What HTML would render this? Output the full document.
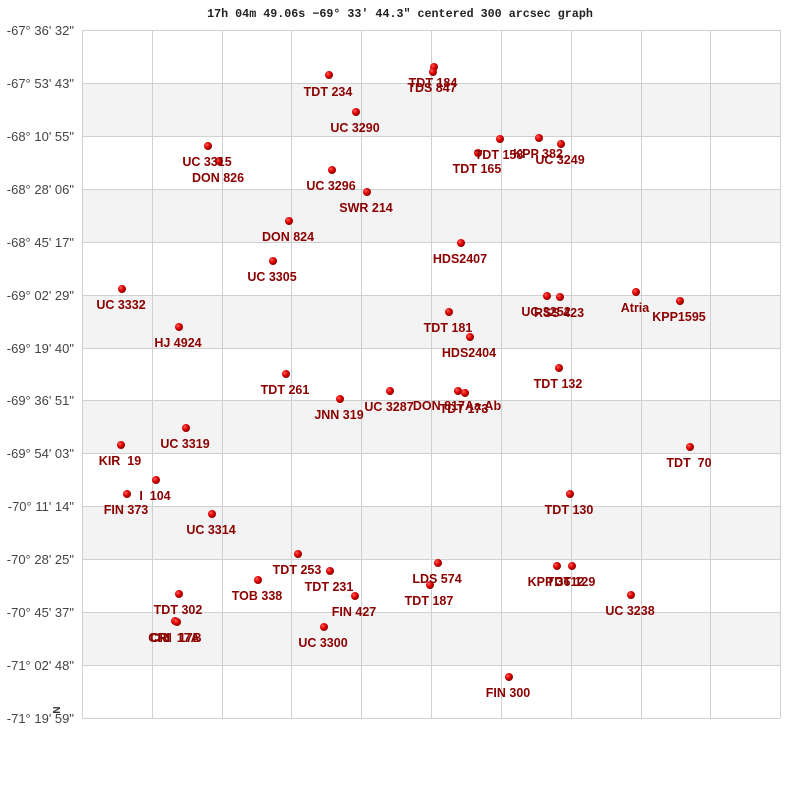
<!DOCTYPE html>
<html><head><meta charset="utf-8"><style>
body{margin:0;background:#fff;width:800px;height:800px;overflow:hidden}
svg text{font-family:"Liberation Sans",sans-serif}
.l{font-size:12.5px;font-weight:bold;fill:#8b0000;text-anchor:middle}
.y{font-size:13px;fill:#444;text-anchor:end}
</style></head><body>
<svg width="800" height="800" xmlns="http://www.w3.org/2000/svg">
<defs><radialGradient id="g" cx="35%" cy="35%" r="70%"><stop offset="0" stop-color="#ff6060"/><stop offset="0.5" stop-color="#e00000"/><stop offset="1" stop-color="#800000"/></radialGradient></defs>
<text x="400" y="17" text-anchor="middle" style="font-family:'Liberation Mono',monospace;font-size:11.7px;font-weight:bold;fill:#222">17h 04m 49.06s −69° 33′ 44.3" centered 300 arcsec graph</text>
<g fill="#f3f3f3">
<rect x="82" y="83" width="698" height="53"/><rect x="82" y="189" width="698" height="53"/><rect x="82" y="295" width="698" height="53"/><rect x="82" y="400" width="698" height="53"/><rect x="82" y="506" width="698" height="53"/><rect x="82" y="612" width="698" height="53"/>
</g>
<g stroke="#d0d0d0" stroke-width="1">
<path d="M82.5 30V718M152.5 30V718M222.5 30V718M291.5 30V718M361.5 30V718M431.5 30V718M501.5 30V718M571.5 30V718M641.5 30V718M710.5 30V718M780.5 30V718"/>
<path d="M82 30.5H780M82 83.5H780M82 136.5H780M82 189.5H780M82 242.5H780M82 295.5H780M82 348.5H780M82 400.5H780M82 453.5H780M82 506.5H780M82 559.5H780M82 612.5H780M82 665.5H780M82 718.5H780"/>
</g>
<g>
<text x="74" y="35" class="y">-67° 36' 32"</text><text x="74" y="88" class="y">-67° 53' 43"</text><text x="74" y="141" class="y">-68° 10' 55"</text><text x="74" y="194" class="y">-68° 28' 06"</text><text x="74" y="247" class="y">-68° 45' 17"</text><text x="74" y="300" class="y">-69° 02' 29"</text><text x="74" y="353" class="y">-69° 19' 40"</text><text x="74" y="405" class="y">-69° 36' 51"</text><text x="74" y="458" class="y">-69° 54' 03"</text><text x="74" y="511" class="y">-70° 11' 14"</text><text x="74" y="564" class="y">-70° 28' 25"</text><text x="74" y="617" class="y">-70° 45' 37"</text><text x="74" y="670" class="y">-71° 02' 48"</text><text x="74" y="723" class="y">-71° 19' 59"</text>
</g>
<text x="0" y="0" transform="translate(60,710) rotate(-90)" style="font-size:10px;font-weight:bold;fill:#333" text-anchor="middle">N</text>
<g id="pts"></g>
</svg>
<script>
var P=[[329,75,"TDT 234",91],[434,67,"TDT 184",82],[433,72,"TDS 847",87],[356,112,"UC 3290",127],[208,146,"UC 3315",161],[219,161,"DON 826",177],[500,139,"TDT 158",154],[539,138,"KPP 382",153],[561,144,"UC 3249",159],[478,153,"TDT 165",168],[332,170,"UC 3296",185],[367,192,"SWR 214",207],[289,221,"DON 824",236],[461,243,"HDS2407",258],[273,261,"UC 3305",276],[122,289,"UC 3332",304],[547,296,"UC 3252",311],[560,297,"RSS 423",312],[636,292,"Atria",307],[680,301,"KPP1595",316],[449,312,"TDT 181",327],[179,327,"HJ 4924",342],[470,337,"HDS2404",352],[559,368,"TDT 132",383],[286,374,"TDT 261",389],[390,391,"UC 3287",406],[458,391,"DON 817Aa,Ab",405],[465,393,"TDT 173",408],[340,399,"JNN 319",414],[186,428,"UC 3319",443],[121,445,"KIR  19",460],[690,447,"TDT  70",462],[156,480,"I  104",495],[127,494,"FIN 373",509],[570,494,"TDT 130",509],[212,514,"UC 3314",529],[298,554,"TDT 253",569],[330,571,"TDT 231",586],[438,563,"LDS 574",578],[430,585,"TDT 187",600],[557,566,"KPP 3612",581],[572,566,"TDT 129",581],[258,580,"TOB 338",595],[355,596,"FIN 427",611],[631,595,"UC 3238",610],[179,594,"TDT 302",609],[175,621,"CRI  17A",637],[177,622,"CRI  17B",637],[324,627,"UC 3300",642],[509,677,"FIN 300",692]];
var g=document.getElementById("pts"),s="";
P.forEach(function(p){s+='<circle cx="'+p[0]+'" cy="'+p[1]+'" r="4" fill="url(#g)"/>';});
P.forEach(function(p){s+='<text class="l" x="'+(p[0]-1)+'" y="'+(p[3]+5)+'" xml:space="preserve">'+p[2]+'</text>';});
g.innerHTML=s;
</script>
</body></html>
